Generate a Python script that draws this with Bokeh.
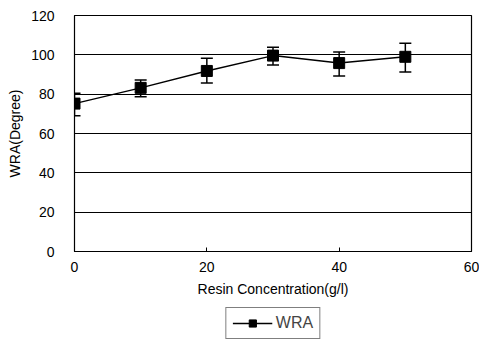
from bokeh.plotting import figure
from bokeh.layouts import column
from bokeh.models import ColumnDataSource, Whisker, TeeHead, Legend, LegendItem, FixedTicker, Range1d
from bokeh.embed import file_html
from bokeh.resources import INLINE

conc = [0, 10, 20, 30, 40, 50]
wra = [75.2, 83.2, 91.8, 99.6, 95.8, 99.0]
wra_upper = [80.5, 87.2, 98.3, 103.9, 101.4, 105.9]
wra_lower = [69.0, 78.7, 85.7, 94.8, 89.3, 91.3]
x_ticks = [0, 20, 40, 60]
y_ticks = [0, 20, 40, 60, 80, 100, 120]
series_name = "WRA"

FONT = "Liberation Sans"

p = figure(width=479, height=303, output_backend="svg", toolbar_location=None,
           x_range=Range1d(0, 60), y_range=Range1d(0, 120),
           min_border_left=74, min_border_right=8, min_border_top=15, min_border_bottom=52)
p.background_fill_color = "white"
p.border_fill_color = "white"
p.outline_line_color = "black"
p.outline_line_width = 1.2

src = ColumnDataSource(dict(x=conc, y=wra, upper=wra_upper, lower=wra_lower))

w = Whisker(source=src, base="x", upper="upper", lower="lower",
            line_color="black", line_width=1.5,
            upper_head=TeeHead(size=12, line_color="black", line_width=1.5),
            lower_head=TeeHead(size=12, line_color="black", line_width=1.5))
p.add_layout(w)

p.line("x", "y", source=src, line_color="black", line_width=1.5)
p.scatter("x", "y", source=src, marker="square", size=11,
          fill_color="black", line_color="black")

p.xaxis.ticker = FixedTicker(ticks=x_ticks)
p.yaxis.ticker = FixedTicker(ticks=y_ticks)
p.xaxis.axis_label = "Resin Concentration(g/l)"
p.yaxis.axis_label = "WRA(Degree)"
for ax in (p.xaxis, p.yaxis):
    ax.axis_label_text_font = FONT
    ax.axis_label_text_font_style = "normal"
    ax.axis_label_text_font_size = "14px"
    ax.major_label_text_font = FONT
    ax.major_label_text_font_size = "14px"
    ax.major_label_text_color = "black"
    ax.axis_label_text_color = "black"
    ax.minor_tick_line_color = None
    ax.axis_line_color = "black"
p.xaxis.major_tick_in = 4
p.xaxis.major_tick_out = 0
p.xaxis.major_label_standoff = 10
p.xaxis.axis_label_standoff = 6
p.yaxis.major_tick_in = 0
p.yaxis.major_tick_out = 0
p.yaxis.major_label_standoff = 20
p.yaxis.axis_label_standoff = 5

p.xgrid.grid_line_color = None
p.ygrid.grid_line_color = "black"
p.ygrid.grid_line_width = 1

# legend panel (its sample glyphs sit outside this panel's visible range)
lg = figure(width=479, height=40, output_backend="svg", toolbar_location=None,
            x_range=Range1d(1000, 1001), y_range=Range1d(1000, 1001),
            min_border_left=74, min_border_right=8, min_border_top=0, min_border_bottom=0)
lg.axis.visible = False
lg.grid.visible = False
lg.outline_line_color = None
lsrc = ColumnDataSource(dict(x=conc, y=wra))
l_ln = lg.line("x", "y", source=lsrc, line_color="black", line_width=1.5)
l_sc = lg.scatter("x", "y", source=lsrc, marker="square", size=10,
                  fill_color="black", line_color="black")
legend = Legend(items=[LegendItem(label=series_name, renderers=[l_ln, l_sc])],
                location="center", orientation="horizontal",
                border_line_color="black", border_line_width=1,
                label_text_font=FONT, label_text_font_size="16px",
                glyph_width=40, glyph_height=18, padding=6, margin=0, spacing=0,
                label_standoff=4)
lg.add_layout(legend, "center")

layout = column(p, lg, spacing=0)
open("out.html", "w").write(file_html(layout, INLINE))
